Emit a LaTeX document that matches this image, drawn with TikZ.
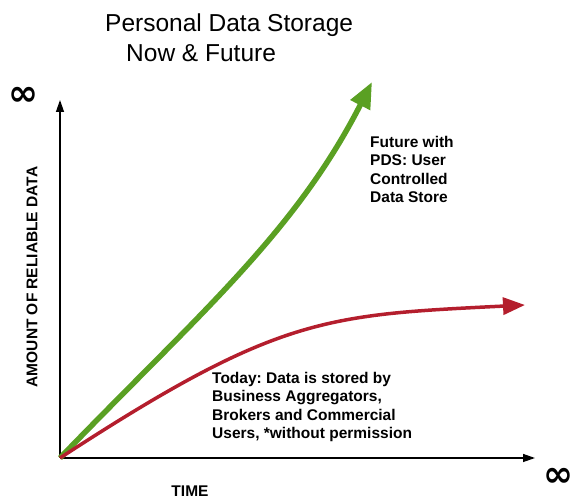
\documentclass[tikz,border=0pt]{standalone}
\usepackage{fontspec}
\setmainfont{Liberation Sans}
\newfontfamily\symfont{DejaVu Sans}
\usetikzlibrary{arrows.meta,positioning}
\frenchspacing

\definecolor{pdsgreen}{RGB}{90,160,35}
\definecolor{pdsred}{RGB}{180,30,45}

\tikzset{
    axis/.style={line width=1.3pt,-{Triangle[length=12pt,width=8pt]}},
    future/.style={line width=5.5pt,pdsgreen,-{Triangle[length=26pt,width=21pt]}},
    today/.style={line width=3.5pt,pdsred,-{Triangle[length=22pt,width=17pt]}},
    note/.style={font=\fontsize{15.5}{18.3}\selectfont\bfseries,align=left,inner sep=0pt},
    infty/.style={font=\fontsize{36}{36}\symfont\bfseries,inner sep=0pt},
    heading/.style={font=\fontsize{24.5}{30}\selectfont,inner sep=0pt,anchor=base west}
}

\begin{document}
\begin{tikzpicture}[x=1pt,y=1pt]

\useasboundingbox (0,0) rectangle (573,500);

% Axes.
\draw
    (60,42) coordinate (O)
    (60,400) coordinate (ytop)
    (535,42) coordinate (xend);
\draw[axis] (O) -- (ytop);
\draw[axis] (O) -- (xend);

% Infinity at the end of each axis.
\foreach \n/\p in {yinf/{23,404},xinf/{558,23}} {
    \node[infty] (\n) at (\p) {∞};
}

% Axis labels.
\node[note,rotate=90] (amount) at (32,223) {AMOUNT OF RELIABLE DATA};
\node[note] (time) at (190,9) {TIME};

% Title.
\node[heading] (title) at (105,468) {Personal Data Storage};
\node[heading] (subtitle) at (126,438) {Now \& Future};

% Arrow ends of the two curves.
\coordinate (gtip) at (372,418);
\coordinate (rtip) at (525,195);

% Green curve: future with PDS.
\draw[future]
    (O) .. controls (199,186) and (295,267) .. (gtip);

% Red curve: today, goes flat.
\draw[today]
    (O) .. controls (278,184) and (325,185) .. (rtip);

% Labels for the curves.
\node[note,anchor=north west] (futurenote) at (370,364)
    {Future with\\PDS: User\\Controlled\\Data Store};
\node[note,anchor=north west] (todaynote) at (212,128)
    {Today: Data is stored by\\Business Aggregators,\\Brokers and Commercial\\Users, *without permission};

\end{tikzpicture}
\end{document}
